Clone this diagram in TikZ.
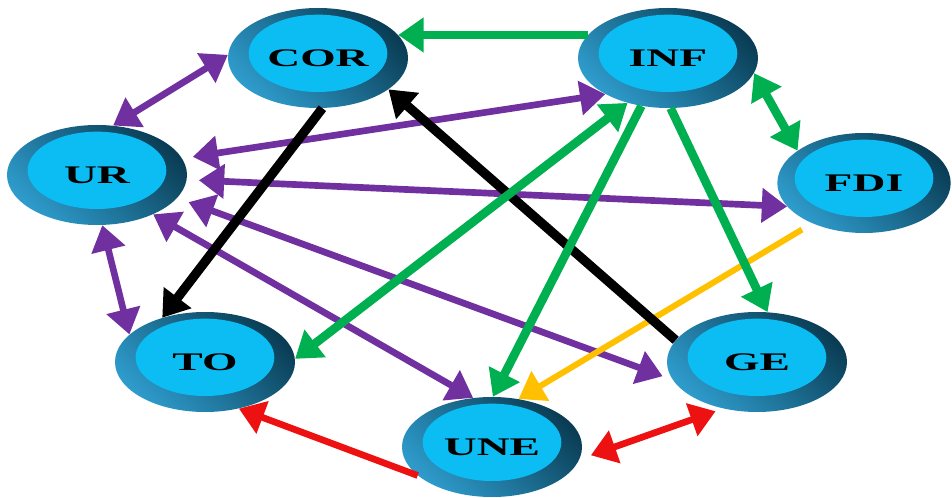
\documentclass[tikz,border=0pt]{standalone}
\usepackage{fontspec}
\setmainfont{Liberation Serif}
\usetikzlibrary{shapes.geometric}
\usetikzlibrary{arrows.meta}
\definecolor{ringlight}{HTML}{2E9BCB}
\definecolor{ringdark}{HTML}{0A3D55}
\definecolor{core}{HTML}{0CBDF4}
\definecolor{lilac}{HTML}{7030A0}
\definecolor{leaf}{HTML}{00B050}
\definecolor{amber}{HTML}{FFC000}
\definecolor{signal}{HTML}{EE1111}
\newcommand{\wide}[1]{\scalebox{1.8}[1]{#1}}

\begin{document}
\begin{tikzpicture}[line join=round,>={Triangle[length=19pt,width=25pt]},x=0.75pt,y=-0.75pt,
                    op/.style={ellipse, minimum width=135pt, minimum height=75pt, inner sep=0pt,
                        top color=ringlight, bottom color=ringdark, shading angle=135,
                        path picture={\fill[core] ([yshift=3.5pt]path picture bounding box.center) ellipse (52pt and 29pt);},
                        font=\fontsize{19}{22}\selectfont\bfseries},
                    pur/.style={lilac, line width=5pt},
                    grn/.style={leaf, line width=6.5pt},
                    blk/.style={black, line width=7pt},
                    ylw/.style={amber, line width=4.5pt},
                    rd/.style={signal, line width=5pt}]
                    \useasboundingbox (0,0) rectangle (952,498);

                    \node[op] (cor) at (318,58) {\wide{COR}};
                    \node[op] (inf) at (668,58) {\wide{INF}};
                    \node[op] (ur) at (97,175) {\wide{UR}};
                    \node[op, minimum width=130pt] (fdi) at (864,183) {\wide{FDI}};
                    \node[op] (to) at (205,362) {\wide{TO}};
                    \node[op] (ge) at (757,362) {\wide{GE}};
                    \node[op] (une) at (492,447) {\wide{UNE}};

                    % purple links
                    \draw [pur, <->] (cor.178) -- (ur.72);
                    \draw [pur, <->, shorten <=8pt] (ur.11) -- (inf.210);
                    \draw [pur, <->, shorten <=9pt] (ur.-3) -- (fdi.197);
                    \draw [pur, <->, shorten <=9pt, shorten >=8pt] (ur.-16) -- (ge.192);
                    \draw [pur, <->] (ur.-35) -- (une.111);
                    \draw [pur, <->] (ur.-84) -- (to.160);

                    \draw [ylw, ->, shorten <=9pt] (fdi.218) -- (une.61);

                    \draw [blk, ->] (cor.275) -- (to.134);
                    \draw [blk, ->] (ge.165) -- (cor.-24);

                    % green links
                    \draw [grn, ->] (inf.164) -- (cor.16);
                    \draw [grn, <->] (inf.228) -- (to.2);
                    \draw [grn, ->] (inf.241) -- (une.89);
                    \draw [grn, ->] (inf.273) -- (ge.78);
                    \draw [grn, <->] (inf.-10) -- (fdi.154);

                    \draw [rd, ->] (une.201) -- (to.-54);
                    \draw [rd, <->, shorten <=9pt, shorten >=6pt] (une.-8) -- (ge.234);
                \end{tikzpicture}
\end{document}
